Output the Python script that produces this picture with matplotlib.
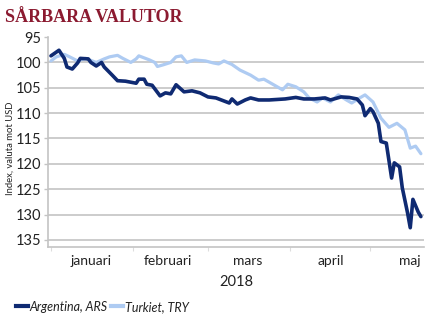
import matplotlib
matplotlib.use("Agg")
import matplotlib.pyplot as plt
import matplotlib.dates as mdates
import pandas as pd
from matplotlib.lines import Line2D

# Currency index vs USD (start of 2018 = 100); higher value = weaker currency
ars_dates = ["2018-01-01", "2018-01-04", "2018-01-06", "2018-01-07", "2018-01-09",
             "2018-01-11", "2018-01-12", "2018-01-15", "2018-01-16", "2018-01-18",
             "2018-01-20", "2018-01-21", "2018-01-24", "2018-01-26", "2018-01-29",
             "2018-02-02", "2018-02-03", "2018-02-05", "2018-02-06", "2018-02-08",
             "2018-02-11", "2018-02-13", "2018-02-15", "2018-02-17", "2018-02-20",
             "2018-02-23", "2018-02-26", "2018-03-01", "2018-03-04", "2018-03-06",
             "2018-03-09", "2018-03-10", "2018-03-12", "2018-03-15", "2018-03-17",
             "2018-03-20", "2018-03-24", "2018-03-30", "2018-04-03", "2018-04-06",
             "2018-04-10", "2018-04-14", "2018-04-16", "2018-04-20", "2018-04-23",
             "2018-04-26", "2018-04-28", "2018-04-29", "2018-05-01", "2018-05-02",
             "2018-05-04", "2018-05-05", "2018-05-07", "2018-05-09", "2018-05-10",
             "2018-05-12", "2018-05-13", "2018-05-15", "2018-05-16", "2018-05-17",
             "2018-05-19", "2018-05-20"]
ars_values = [98.7, 97.6, 99.2, 100.9, 101.3,
              100.1, 99.2, 99.3, 100.0, 100.7,
              100.0, 100.9, 102.5, 103.6, 103.7,
              104.1, 103.3, 103.3, 104.3, 104.5,
              106.6, 106.0, 106.2, 104.4, 105.8,
              105.6, 106.0, 106.8, 107.0, 107.4,
              108.0, 107.2, 108.2, 107.4, 107.0,
              107.4, 107.4, 107.2, 106.9, 107.2,
              107.2, 107.0, 107.4, 106.8, 106.9,
              107.2, 108.4, 110.5, 109.1, 109.7,
              112.0, 115.6, 115.9, 122.8, 119.8,
              120.6, 124.7, 129.7, 132.6, 127.0,
              129.5, 130.4]

try_dates = ["2018-01-01", "2018-01-03", "2018-01-06", "2018-01-08", "2018-01-11",
             "2018-01-14", "2018-01-18", "2018-01-21", "2018-01-23", "2018-01-26",
             "2018-01-28", "2018-01-31", "2018-02-02", "2018-02-03", "2018-02-05",
             "2018-02-07", "2018-02-09", "2018-02-10", "2018-02-12", "2018-02-15",
             "2018-02-17", "2018-02-19", "2018-02-21", "2018-02-24", "2018-02-28",
             "2018-03-03", "2018-03-05", "2018-03-07", "2018-03-10", "2018-03-13",
             "2018-03-17", "2018-03-20", "2018-03-22", "2018-03-24", "2018-03-27",
             "2018-03-29", "2018-03-31", "2018-04-03", "2018-04-06", "2018-04-08",
             "2018-04-11", "2018-04-13", "2018-04-16", "2018-04-19", "2018-04-22",
             "2018-04-24", "2018-04-27", "2018-04-29", "2018-05-02", "2018-05-05",
             "2018-05-08", "2018-05-11", "2018-05-14", "2018-05-16", "2018-05-18",
             "2018-05-20"]
try_values = [99.7, 98.9, 98.4, 98.9, 99.7,
              99.2, 100.0, 99.3, 98.9, 98.6,
              99.2, 100.0, 99.3, 98.7, 99.1,
              99.5, 100.0, 100.8, 100.5, 100.0,
              98.9, 98.7, 100.0, 99.5, 99.7,
              100.1, 100.3, 99.7, 100.4, 101.5,
              102.5, 103.5, 103.3, 103.9, 104.8,
              105.4, 104.3, 104.8, 105.8, 107.0,
              107.8, 107.0, 107.8, 106.4, 107.4,
              108.0, 107.0, 106.4, 107.8, 111.0,
              112.8, 112.0, 113.3, 116.9, 116.5,
              118.0]

month_labels = ["januari", "februari", "mars", "april", "maj"]
year_label = "2018"
y_ticks = [95, 100, 105, 110, 115, 120, 125, 130, 135]

title = "SÅRBARA VALUTOR"
ylabel = "Index, valuta mot USD"
series_names = ["Argentina, ARS", "Turkiet, TRY"]

navy = "#0f2a72"
light = "#aecbf2"
grid_col = "#c4c4c4"
title_col = "#8b1a30"

plt.rcParams["font.family"] = ["Lato", "DejaVu Sans"]

fig = plt.figure(figsize=(4.45, 3.27), dpi=100)
ax = fig.add_axes([0.108, 0.2446, 0.845, 0.642])

ars_x = pd.to_datetime(ars_dates)
try_x = pd.to_datetime(try_dates)

ax.plot(try_x, try_values, color=light, lw=2.3, solid_joinstyle="round",
        solid_capstyle="round", zorder=3)
ax.plot(ars_x, ars_values, color=navy, lw=2.6, solid_joinstyle="round",
        solid_capstyle="round", zorder=4)

ax.set_ylim(136.4, 95)
ax.set_yticks(y_ticks)
ax.set_yticklabels([str(v) for v in y_ticks], fontsize=10.5, color="#222222")
ax.yaxis.grid(True, color=grid_col, lw=1.2)
ax.yaxis.get_gridlines()[0].set_visible(False)
ax.tick_params(axis="y", length=3, color=grid_col, width=1.0, pad=2)

x0 = mdates.date2num(pd.Timestamp("2018-01-01")) - 1.1
x1 = mdates.date2num(pd.Timestamp("2018-05-21")) + 0.2
ax.set_xlim(x0, x1)

month_starts = pd.to_datetime(["2018-01-01", "2018-02-01", "2018-03-01",
                               "2018-04-01", "2018-05-01"])
month_mids = pd.to_datetime(["2018-01-16", "2018-02-14", "2018-03-16",
                             "2018-04-16", "2018-05-16"])
ax.set_xticks(mdates.date2num(month_starts))
ax.set_xticklabels([])
ax.tick_params(axis="x", which="major", length=3, color="#dddddd", width=0.8)
ax.set_xticks(mdates.date2num(month_mids), minor=True)
ax.set_xticklabels(month_labels, minor=True, fontsize=10, color="#222222")
ax.tick_params(axis="x", which="minor", length=0, pad=6)

for side in ("top", "right"):
    ax.spines[side].set_visible(False)
ax.spines["left"].set_color(grid_col)
ax.spines["left"].set_linewidth(1.2)
ax.spines["bottom"].set_color(grid_col)
ax.spines["bottom"].set_linewidth(1.2)

ax.set_ylabel(ylabel, fontsize=6.8, color="#222222", labelpad=1)
ax.yaxis.set_label_coords(-0.09, 0.47)

fig.text(0.53, 0.138, year_label, ha="center", va="center", fontsize=10.5,
         color="#222222")

fig.text(0.012, 0.948, title, ha="left", va="center", fontsize=13,
         fontweight="bold", family="Liberation Serif", color=title_col)

handles = [Line2D([], [], color=navy, lw=3), Line2D([], [], color=light, lw=3)]
leg = fig.legend(handles, series_names, loc="center left",
                 bbox_to_anchor=(0.01, 0.062), frameon=False, ncol=2,
                 handlelength=1.0, handletextpad=0.12, columnspacing=0.25,
                 prop={"style": "italic", "size": 9})
for t in leg.get_texts():
    t.set_color("#222222")

fig.savefig("out.png", dpi=100)
